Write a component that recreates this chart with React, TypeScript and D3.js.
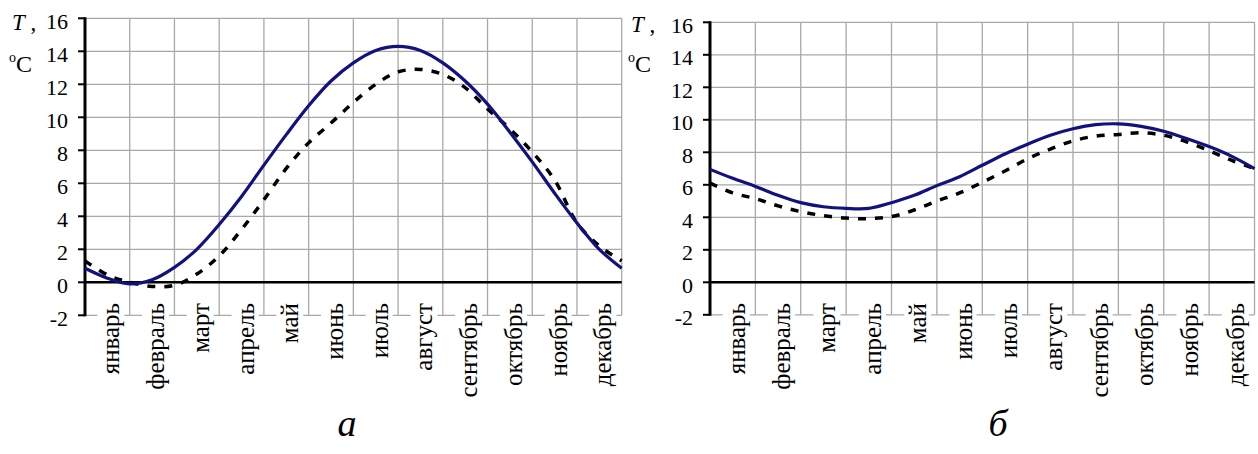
import React, { useEffect, useRef } from 'react';
import * as d3 from 'd3';

// ---------- data ----------
const months = ['январь', 'февраль', 'март', 'апрель', 'май', 'июнь', 'июль', 'август', 'сентябрь', 'октябрь', 'ноябрь', 'декабрь'];
const yTicks = [-2, 0, 2, 4, 6, 8, 10, 12, 14, 16];
// sample positions along the month axis (0 = start of январь, 12 = end of декабрь)
const samplePos = [0, 0.5, 1, 1.5, 2, 2.5, 3, 3.5, 4, 4.5, 5, 5.5, 6, 6.5, 7, 7.5, 8, 8.5, 9, 9.5, 10, 10.5, 11, 11.5, 12];
// panel а
const solidA = [0.85, 0.25, -0.1, 0.15, 0.9, 2.0, 3.5, 5.2, 7.1, 8.95, 10.7, 12.2, 13.3, 14.05, 14.3, 14.05, 13.3, 12.2, 10.8, 9.1, 7.3, 5.4, 3.6, 2.0, 0.85];
const dashedA = [1.3, 0.45, 0.0, -0.25, -0.18, 0.5, 1.6, 3.2, 5.0, 6.9, 8.45, 9.65, 10.9, 12.0, 12.75, 12.9, 12.6, 11.8, 10.5, 9.3, 7.9, 6.2, 3.6, 2.2, 1.3];
// panel б
const solidB = [6.95, 6.4, 5.9, 5.35, 4.9, 4.65, 4.55, 4.55, 4.9, 5.35, 5.95, 6.5, 7.2, 7.9, 8.5, 9.05, 9.45, 9.7, 9.75, 9.6, 9.3, 8.85, 8.35, 7.75, 7.0];
const dashedB = [6.1, 5.5, 5.15, 4.7, 4.35, 4.1, 3.95, 3.92, 4.04, 4.45, 5.0, 5.5, 6.15, 6.85, 7.6, 8.2, 8.7, 9.0, 9.1, 9.2, 9.05, 8.65, 8.1, 7.5, 7.0];
const captions = ['а', 'б'];

// ---------- layout ----------
const W = 1258;
const H = 454;
const FONT = 'Liberation Serif';

const panels = [
  { x0: 85, x1: 621.7, yTop: 18.3, yBottom: 315.3, solid: solidA, dashed: dashedA, axisLabelX: 12, captionX: 347 },
  { x0: 710, x1: 1254.5, yTop: 22.3, yBottom: 314.8, solid: solidB, dashed: dashedB, axisLabelX: 631, captionX: 998 },
];

export default function App() {
  const ref = useRef<SVGSVGElement | null>(null);

  useEffect(() => {
    const svg = d3.select(ref.current);
    svg.selectAll('*').remove();

    panels.forEach((p, pi) => {
      const g = svg.append('g').style('font-family', FONT);
      const x = d3.scaleLinear().domain([0, 12]).range([p.x0, p.x1]);
      const y = d3.scaleLinear().domain([-2, 16]).range([p.yBottom, p.yTop]);

      // horizontal gridlines
      g.selectAll('line.hg')
        .data(yTicks.filter((t) => t !== 0))
        .join('line')
        .attr('x1', p.x0).attr('x2', p.x1)
        .attr('y1', (d) => y(d)).attr('y2', (d) => y(d))
        .attr('stroke', '#a8a8a8').attr('stroke-width', 1.3);

      // vertical gridlines at month boundaries
      g.selectAll('line.vg')
        .data(d3.range(1, 13))
        .join('line')
        .attr('x1', (d) => x(d)).attr('x2', (d) => x(d))
        .attr('y1', y(16)).attr('y2', y(-2))
        .attr('stroke', '#a8a8a8').attr('stroke-width', 1.3);

      // month labels with white background
      months.forEach((m, i) => {
        const c = x(i + 0.5);
        const lg = g.append('g').attr('transform', `translate(${c + 12},${303}) rotate(-90)`);
        const rect = lg.append('rect').attr('fill', '#fff');
        const t = lg.append('text')
          .attr('text-anchor', 'end')
          .style('font-family', FONT)
          .attr('font-size', 25)
          .attr('fill', '#000')
          .text(m);
        const bb = (t.node() as SVGTextElement).getBBox();
        rect.attr('x', bb.x - 1).attr('y', bb.y).attr('width', bb.width + 2).attr('height', bb.height);
      });

      // zero line
      g.append('line')
        .attr('x1', p.x0).attr('x2', p.x1)
        .attr('y1', y(0)).attr('y2', y(0))
        .attr('stroke', '#000').attr('stroke-width', 2.5);

      // y axis
      g.append('line')
        .attr('x1', p.x0).attr('x2', p.x0)
        .attr('y1', y(16) - 1).attr('y2', y(-2) + 1)
        .attr('stroke', '#000').attr('stroke-width', 3);
      g.selectAll('line.tk')
        .data(yTicks)
        .join('line')
        .attr('x1', p.x0 - 7).attr('x2', p.x0)
        .attr('y1', (d) => y(d)).attr('y2', (d) => y(d))
        .attr('stroke', '#000').attr('stroke-width', 2);
      g.selectAll('text.yt')
        .data(yTicks)
        .join('text')
        .attr('x', p.x0 - 17)
        .attr('y', (d) => y(d) + 10.5)
        .attr('text-anchor', 'end')
        .style('font-family', FONT)
        .attr('font-size', 22)
        .attr('fill', '#000')
        .text((d) => String(d));

      // axis title
      const tt = g.append('text')
        .attr('x', p.axisLabelX)
        .attr('y', 30 + (pi === 1 ? 1.5 : 0))
        .style('font-family', FONT)
        .attr('font-size', 23)
        .attr('fill', '#000');
      tt.append('tspan').attr('font-style', 'italic').text('T');
      tt.append('tspan').text(' ,');
      const tc = g.append('text')
        .attr('x', p.axisLabelX - 3)
        .attr('y', 72)
        .style('font-family', FONT)
        .attr('font-size', 24)
        .attr('fill', '#000');
      tc.append('tspan').attr('font-size', 14).attr('dy', -10).text('o');
      tc.append('tspan').attr('dy', 10).text('C');

      // curves
      const line = d3.line<number>()
        .x((_, i) => x(samplePos[i]))
        .y((d) => y(d))
        .curve(d3.curveCatmullRom.alpha(0.5));

      g.append('path')
        .attr('d', line(p.dashed) ?? '')
        .attr('fill', 'none')
        .attr('stroke', '#000')
        .attr('stroke-width', 3.5)
        .attr('stroke-dasharray', '8,9');
      g.append('path')
        .attr('d', line(p.solid) ?? '')
        .attr('fill', 'none')
        .attr('stroke', '#11117f')
        .attr('stroke-width', 3.2);

      // caption
      svg.append('text')
        .attr('x', p.captionX)
        .attr('y', 436)
        .attr('text-anchor', 'middle')
        .style('font-family', FONT)
        .attr('font-style', 'italic')
        .attr('font-size', 38)
        .attr('fill', '#000')
        .text(captions[pi]);
    });
  }, []);

  return (
    <svg
      ref={ref}
      width={W}
      height={H}
      style={{ position: 'absolute', left: 0, top: 0, display: 'block', background: '#fff' }}
    />
  );
}
